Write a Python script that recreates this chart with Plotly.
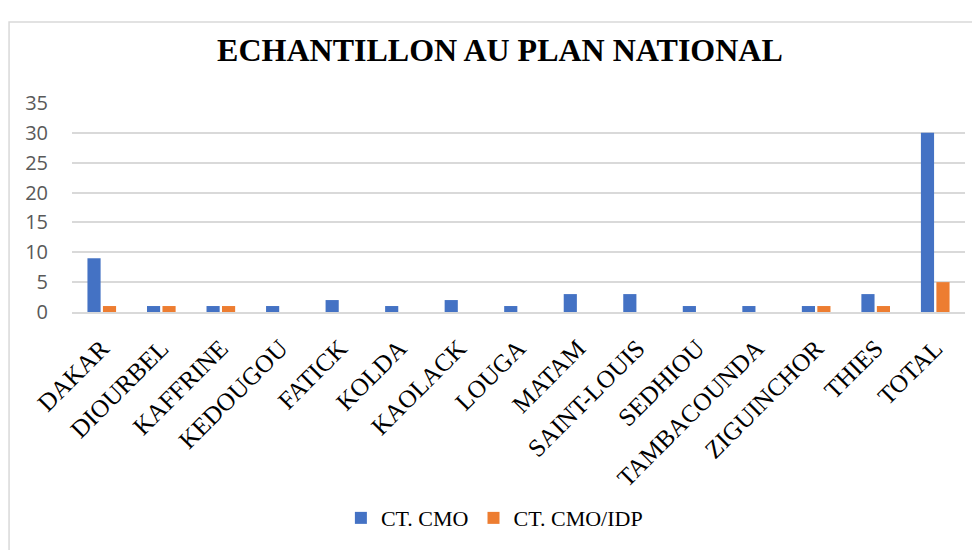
import plotly.graph_objects as go

categories = ["DAKAR", "DIOURBEL", "KAFFRINE", "KEDOUGOU", "FATICK", "KOLDA", "KAOLACK",
              "LOUGA", "MATAM", "SAINT-LOUIS", "SEDHIOU", "TAMBACOUNDA", "ZIGUINCHOR",
              "THIES", "TOTAL"]
ct_cmo = [9, 1, 1, 1, 2, 1, 2, 1, 3, 3, 1, 1, 1, 3, 30]
ct_cmo_idp = [1, 1, 1, 0, 0, 0, 0, 0, 0, 0, 0, 0, 1, 1, 5]
y_ticks = [0, 5, 10, 15, 20, 25, 30, 35]

fig = go.Figure()
fig.add_trace(go.Bar(x=categories, y=ct_cmo, name="CT. CMO",
                     marker=dict(color="#4472C4", line=dict(width=0))))
fig.add_trace(go.Bar(x=categories, y=ct_cmo_idp, name="CT. CMO/IDP",
                     marker=dict(color="#ED7D31", line=dict(width=0))))

fig.update_layout(
    width=980, height=550,
    margin=dict(l=64, r=23, t=95, b=246),
    paper_bgcolor="white", plot_bgcolor="white",
    title=dict(text="<b>ECHANTILLON AU PLAN NATIONAL</b>", x=0.502, xanchor="center",
               y=0.924, yanchor="middle",
               font=dict(family="Liberation Serif", size=32, color="black")),
    barmode="group", bargap=0.48, bargroupgap=0.15,
    showlegend=True,
    legend=dict(orientation="h", x=0.473, xanchor="center", y=-0.986, yanchor="middle",
                font=dict(family="Liberation Serif", size=22, color="black"),
                itemwidth=30, traceorder="normal"),
    xaxis=dict(tickangle=-45, tickfont=dict(family="Liberation Serif", size=25, color="black"),
               showgrid=False, showline=True, linecolor="#d9d9d9", linewidth=1.5, ticks="",
               ticklabelstandoff=10),
    yaxis=dict(range=[0, 35], tickvals=y_ticks, showgrid=True, gridcolor="#d9d9d9", gridwidth=1.5,
               zeroline=False, showline=False, ticks="",
               tickfont=dict(family="Open Sans", size=20, color="#595959"),
               ticklabelstandoff=23),
    shapes=[dict(type="rect", xref="paper", yref="paper", x0=-0.0705, x1=1.2, y0=-1.5, y1=1.388,
                 line=dict(color="#d9d9d9", width=1.5), layer="below")],
)

fig.write_html("out.html")
